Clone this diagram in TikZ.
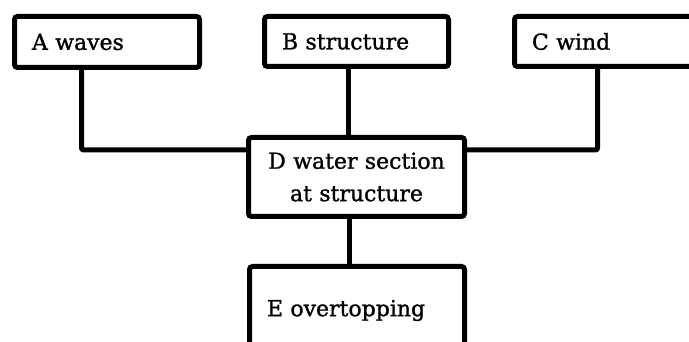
\documentclass[tikz,border=0pt]{standalone}
\usepackage{fontspec}
\setmainfont[FakeBold=1.2]{DejaVu Serif}
\begin{document}
\begin{tikzpicture}[x=1pt,y=-1pt,
  box/.style={draw=black, line width=5pt, rounded corners=3pt, fill=white,
    inner xsep=17.5pt, inner ysep=0pt,
    font=\fontsize{22}{32.4}\selectfont},
  conn/.style={draw=black, line width=5pt, line join=round, rounded corners=2pt}]
\useasboundingbox[fill=white] (0,0) rectangle (689,342);
\coordinate (ja) at (81.5,150);
\coordinate (jb) at (348.5,0);
\coordinate (jc) at (597.5,150);
\coordinate (je) at (349.5,0);
% boxes
\node[box, minimum width=185pt, minimum height=51pt, text width=150pt, align=left] (A) at (107,42) {A waves};
\node[box, minimum width=184pt, minimum height=50pt, text width=149pt, align=left] (B) at (356.5,41.5) {B structure};
\node[box, minimum width=190pt, minimum height=50pt, text width=155pt, align=left] (C) at (609.5,41.5) {C wind};
\node[box, minimum width=216pt, minimum height=79pt, text width=181pt, align=center] (D) at (356.5,177) {D water section\\at structure};
\node[box, minimum width=215pt, minimum height=88pt, text width=180pt, align=left] (E) at (357,310.5) {E overtopping};
% connectors
\draw[conn] (A.south -| ja) -- (ja) -- (ja -| D.west);
\draw[conn] (B.south -| jb) -- (D.north -| jb);
\draw[conn] (C.south -| jc) -- (jc) -- (jc -| D.east);
\draw[conn] (D.south -| je) -- (E.north -| je);
\end{tikzpicture}
\end{document}
